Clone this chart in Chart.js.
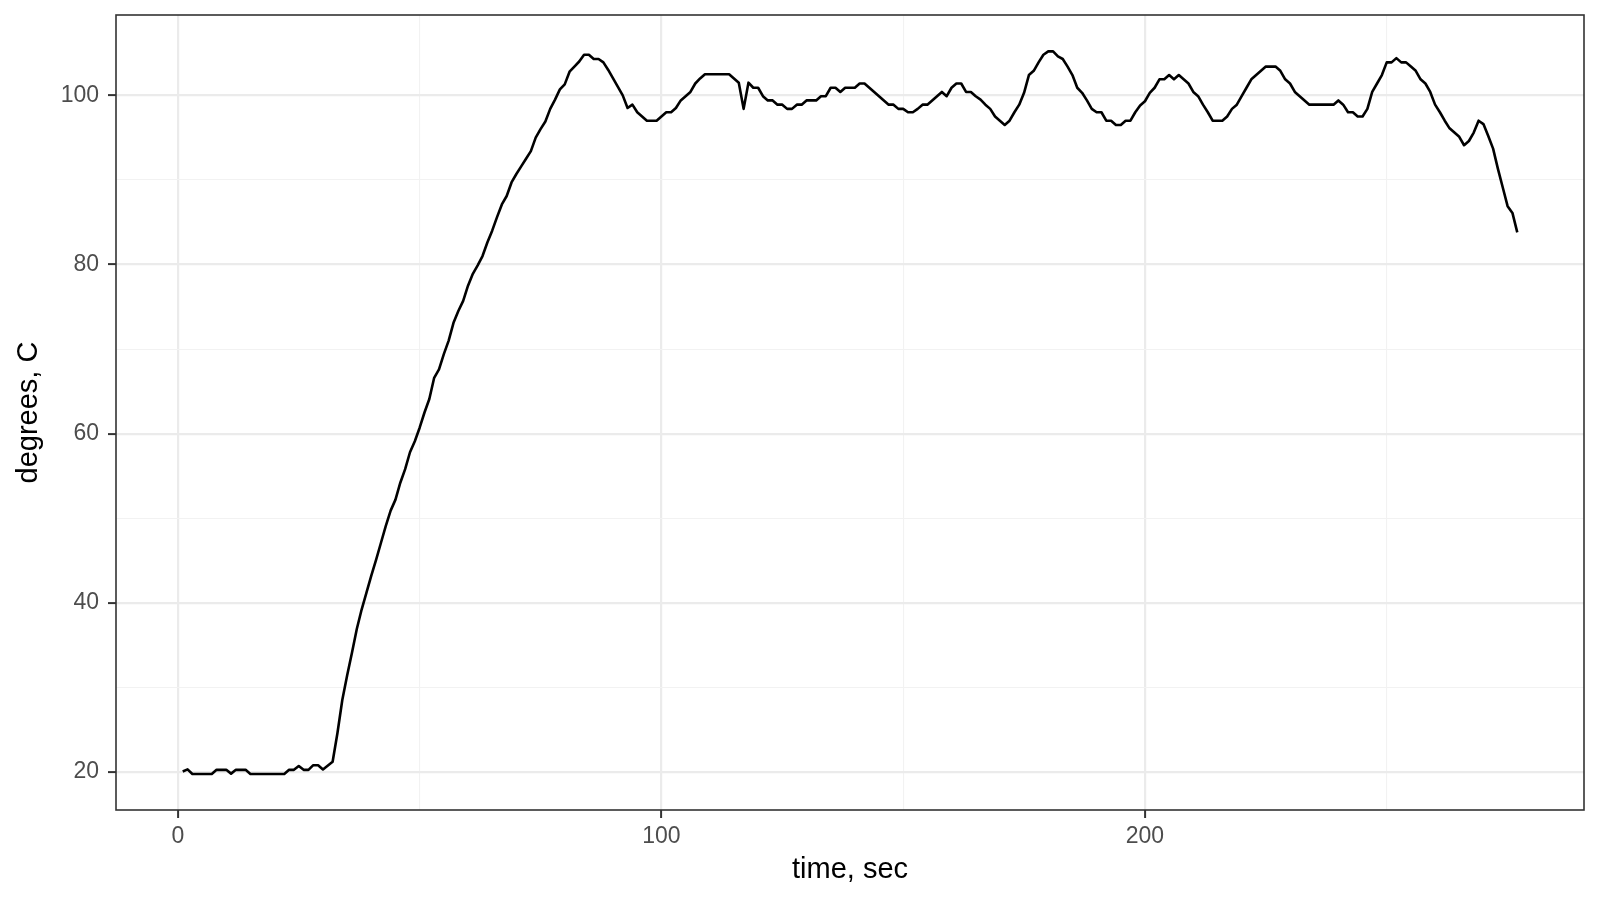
<!DOCTYPE html>
<html>
<head>
<meta charset="utf-8">
<script src="https://cdn.jsdelivr.net/npm/chart.js@4.4.1/dist/chart.umd.min.js"></script>
<style>
  html, body { margin: 0; padding: 0; background: #ffffff; }
  #wrap { width: 1600px; height: 900px; }
</style>
</head>
<body>
<div id="wrap"><canvas id="c" width="1600" height="900"></canvas></div>
<script>
// ---- data ----
const timeSec = [
  1,2,3,5,7,8,10,11,12,14,15,18,22,23,24,25,26,27,28,29,30,32,33,34,35,36,37,38,39,40,
  41,42,43,44,45,46,47,48,49,50,51,52,53,54,55,56,57,58,59,60,61,62,63,64,65,66,67,68,69,70,
  71,72,73,74,75,76,77,78,79,80,81,82,83,84,85,86,87,88,89,90,91,92,93,94,95,96,97,98,99,100,
  101,102,103,104,105,106,107,108,109,110,111,112,113,114,115,116,117,118,119,120,
  121,122,123,124,125,126,127,128,129,130,131,132,133,134,135,136,137,138,139,140,
  141,142,143,144,145,146,147,148,149,150,151,152,153,154,155,156,157,158,159,160,
  161,162,163,164,165,166,167,168,169,170,171,172,173,174,175,176,177,178,179,180,
  181,182,183,184,185,186,187,188,189,190,191,192,193,194,195,196,197,198,199,200,
  201,202,203,204,205,206,207,208,209,210,211,212,213,214,215,216,217,218,219,220,
  221,222,223,224,225,226,227,228,229,230,231,232,233,234,235,236,237,238,239,240,
  241,242,243,244,245,246,247,248,249,250,251,252,253,254,255,256,257,258,259,260,
  261,262,263,264,265,266,267,268,269,270,271,272,273,274,275,276,277
];
const degreesC = [
  20.05,20.3,19.75,19.75,19.75,20.25,20.25,19.8,20.25,20.25,19.75,19.75,19.75,20.25,20.25,20.7,20.25,20.25,20.8,20.8,20.3,21.2,24.6,28.5,31.4,34.1,36.9,39.2,41.2,43.2,
  45.1,47.1,49.1,50.9,52.2,54.2,55.8,57.8,59.1,60.7,62.5,64.1,66.6,67.6,69.4,71.0,73.1,74.5,75.7,77.5,78.9,79.9,81.0,82.6,84.0,85.6,87.1,88.1,89.7,90.7,
  91.6,92.5,93.4,95.0,96.0,96.9,98.4,99.5,100.7,101.3,102.8,103.4,104.0,104.8,104.8,104.3,104.3,103.9,103.0,102.0,101.0,100.0,98.5,98.9,98.0,97.5,97.0,97.0,97.0,97.5,
  98.0,98.0,98.5,99.4,99.9,100.4,101.4,102.0,102.5,102.5,102.5,102.5,102.5,102.5,102.0,101.5,98.4,101.5,100.9,100.9,
  99.9,99.4,99.4,98.9,98.9,98.4,98.4,98.9,98.9,99.4,99.4,99.4,99.9,99.9,100.9,100.9,100.4,100.9,100.9,100.9,
  101.4,101.4,100.9,100.4,99.9,99.4,98.9,98.9,98.4,98.4,98.0,98.0,98.4,98.9,98.9,99.4,99.9,100.4,99.9,100.9,
  101.4,101.4,100.4,100.4,99.9,99.5,98.9,98.4,97.5,97.0,96.5,97.0,98.0,98.9,100.3,102.4,102.9,103.9,104.8,105.2,
  105.2,104.6,104.3,103.4,102.4,100.9,100.3,99.4,98.4,98.0,98.0,97.0,97.0,96.5,96.5,97.0,97.0,98.0,98.8,99.3,
  100.3,100.9,101.9,101.9,102.4,101.9,102.4,101.9,101.4,100.4,99.9,98.9,98.0,97.0,97.0,97.0,97.5,98.4,98.9,99.9,
  100.9,101.9,102.4,102.9,103.4,103.4,103.4,102.9,101.9,101.4,100.4,99.9,99.4,98.9,98.9,98.9,98.9,98.9,98.9,99.4,
  98.9,98.0,98.0,97.5,97.5,98.4,100.4,101.4,102.4,103.9,103.9,104.4,103.9,103.9,103.4,102.9,101.9,101.4,100.4,98.9,
  98.0,97.0,96.1,95.6,95.1,94.1,94.6,95.6,97.0,96.6,95.2,93.7,91.3,89.1,86.9,86.1,83.8
];
const xMajorTicks = [0, 100, 200];
const yMajorTicks = [20, 40, 60, 80, 100];
const xTitle = 'time, sec';
const yTitle = 'degrees, C';

// ---- chart ----
const points = timeSec.map((t, i) => ({ x: t, y: degreesC[i] }));
const FONT = "'Liberation Sans', Arial, sans-serif";

function isMajor(list, v) { return list.some(m => Math.abs(m - v) < 1e-6); }

const framePlugin = {
  id: 'frame',
  afterDraw(chart) {
    const { ctx, chartArea: a } = chart;
    ctx.save();
    ctx.strokeStyle = '#333333';
    ctx.lineWidth = 1.6;
    ctx.strokeRect(a.left, a.top, a.right - a.left, a.bottom - a.top);
    ctx.restore();
  }
};

new Chart(document.getElementById('c'), {
  type: 'line',
  data: {
    datasets: [{
      data: points,
      borderColor: '#000000',
      borderWidth: 2.6,
      pointRadius: 0,
      tension: 0,
      fill: false,
      borderJoinStyle: 'round',
      borderCapStyle: 'butt'
    }]
  },
  options: {
    responsive: false,
    devicePixelRatio: 1,
    animation: false,
    layout: { padding: { left: 0, top: 15, right: 16, bottom: 0 } },
    plugins: { legend: { display: false }, tooltip: { enabled: false } },
    scales: {
      x: {
        type: 'linear',
        min: -12.8,
        max: 290.8,
        afterFit(s) { s.height = 90; s.paddingLeft = 0; s.paddingRight = 0; },
        border: { display: false },
        grid: {
          color: c => isMajor(xMajorTicks, c.tick.value) ? '#EBEBEB' : '#F2F2F2',
          lineWidth: c => isMajor(xMajorTicks, c.tick.value) ? 2.2 : 1.1,
          drawTicks: true,
          tickLength: 8,
          tickColor: c => isMajor(xMajorTicks, c.tick.value) ? '#333333' : 'rgba(0,0,0,0)',
          tickWidth: 2
        },
        ticks: {
          stepSize: 50,
          includeBounds: false,
          autoSkip: false,
          maxRotation: 0,
          padding: 5,
          color: '#4D4D4D',
          font: { family: FONT, size: 23 },
          callback: v => isMajor(xMajorTicks, v) ? String(v) : ''
        },
        title: {
          display: true,
          text: xTitle,
          color: '#000000',
          font: { family: FONT, size: 29 },
          padding: { top: 0, bottom: 13 }
        }
      },
      y: {
        type: 'linear',
        min: 15.5,
        max: 109.5,
        afterFit(s) { s.width = 116; s.paddingTop = 0; s.paddingBottom = 0; },
        border: { display: false },
        grid: {
          color: c => isMajor(yMajorTicks, c.tick.value) ? '#EBEBEB' : '#F2F2F2',
          lineWidth: c => isMajor(yMajorTicks, c.tick.value) ? 2.2 : 1.1,
          drawTicks: true,
          tickLength: 8,
          tickColor: c => isMajor(yMajorTicks, c.tick.value) ? '#333333' : 'rgba(0,0,0,0)',
          tickWidth: 2
        },
        ticks: {
          stepSize: 10,
          includeBounds: false,
          autoSkip: false,
          padding: 9,
          color: '#4D4D4D',
          font: { family: FONT, size: 23 },
          callback: v => isMajor(yMajorTicks, v) ? String(v) : ''
        },
        title: {
          display: true,
          text: yTitle,
          color: '#000000',
          font: { family: FONT, size: 29 },
          padding: { top: 12, bottom: 0 }
        }
      }
    }
  },
  plugins: [framePlugin]
});
</script>
</body>
</html>
